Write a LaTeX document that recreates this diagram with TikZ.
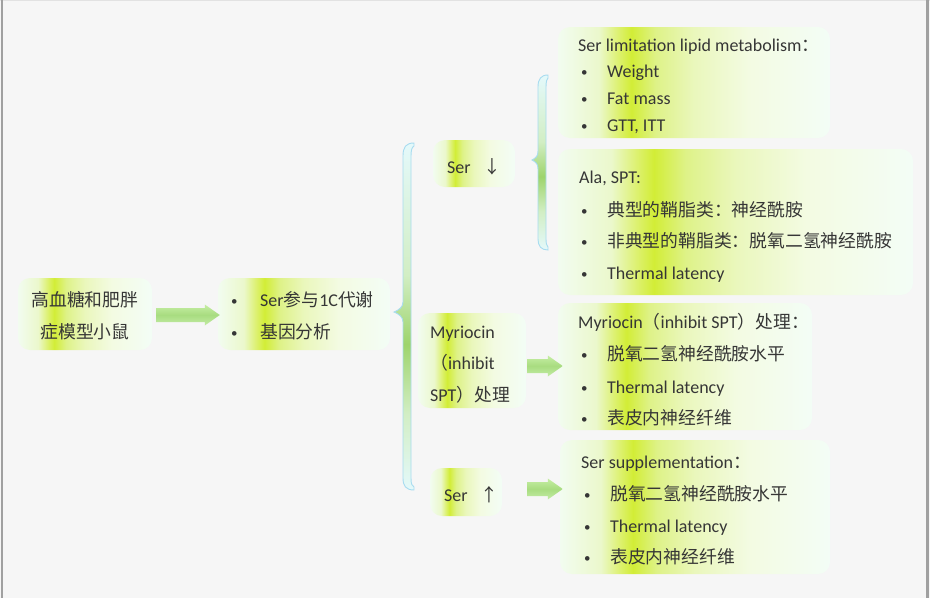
\documentclass[tikz,border=0pt]{standalone}
\usepackage{fontspec}
\setmainfont{Carlito}
\newfontfamily\cjkf{Noto Sans CJK SC}
\usetikzlibrary{calc}
\newcommand\zh[1]{{\cjkf\fontsize{17.8}{20}\selectfont #1}}
\definecolor{bgc}{HTML}{F6F6F6}
\definecolor{edgec}{HTML}{A0A0A0}
\definecolor{topc}{HTML}{E2E2E2}
\definecolor{txtc}{HTML}{363636}
\definecolor{bxA}{HTML}{F2FCF0}
\definecolor{bxB}{HTML}{EBF8CC}
\definecolor{bxC}{HTML}{DDF172}
\definecolor{bxD}{HTML}{D2ED36}
\definecolor{bxE}{HTML}{DEF288}
\definecolor{bxF}{HTML}{EAF7BC}
\definecolor{bxG}{HTML}{F3FBE2}
\definecolor{bxH}{HTML}{F3FDF6}
\definecolor{brE}{HTML}{E4F9FB}
\definecolor{brM}{HTML}{9ED46C}
\definecolor{brN}{HTML}{D2EEC4}
\definecolor{brLine}{HTML}{A8DCF0}
\definecolor{arT}{HTML}{C6EEA4}
\definecolor{arM}{HTML}{A8DC80}
\definecolor{arB}{HTML}{C4ECA6}
\pgfdeclarehorizontalshading{boxshade}{100bp}{color(0bp)=(bxA); color(25bp)=(bxA); color(32.5bp)=(bxB); color(36bp)=(bxC); color(38.5bp)=(bxD); color(43bp)=(bxE); color(50bp)=(bxF); color(60bp)=(bxG); color(75bp)=(bxH); color(100bp)=(bxH)}
\pgfdeclareverticalshading{braceshade}{100bp}{color(0bp)=(brE); color(25bp)=(brE); color(36bp)=(brN); color(46bp)=(brM); color(56bp)=(brN); color(75bp)=(brE); color(100bp)=(brE)}
\pgfdeclareverticalshading{arrowshade}{100bp}{color(0bp)=(arB); color(25bp)=(arB); color(50bp)=(arM); color(75bp)=(arT); color(100bp)=(arT)}
\newcommand\flowarrow[2]{\path[shading=arrowshade] ($(#1)+(0,-7)$) -- ($(#2)+(-15,-7)$) -- ($(#2)+(-15,-10.5)$) -- (#2) -- ($(#2)+(-15,10.5)$) -- ($(#2)+(-15,7)$) -- ($(#1)+(0,7)$) -- cycle;}
\tikzset{
  box/.style={rectangle, rounded corners=12pt, shading=boxshade, draw=none, inner sep=0pt},
  txt/.style={inner sep=0pt, anchor=base west, text=txtc, font=\fontsize{18}{20}\selectfont},
  ctxt/.style={txt, anchor=base},
  dot/.style={inner sep=0pt, anchor=base west, text=txtc, font=\fontsize{13}{15}\selectfont},
  brace/.style={shading=braceshade, draw=brLine, line width=0.9pt}
}
\begin{document}
\begin{tikzpicture}[x=1pt,y=-1pt]
\useasboundingbox (0,0) rectangle (930,598);
\fill[bgc] (0,0) rectangle (930,598);
\fill[topc] (0,0) rectangle (930,1.2);
\fill[edgec] (0.8,0) rectangle (3.4,598);
\fill[edgec] (926,0) rectangle (928.8,598);

% boxes
\node[box, minimum width=134pt, minimum height=72pt] (b1) at (85,314) {};
\node[box, minimum width=172pt, minimum height=72pt] (b2) at (304,314) {};
\node[box, minimum width=82pt, minimum height=47pt] (b3) at (474,163.5) {};
\node[box, minimum width=272pt, minimum height=111pt] (b4) at (694,82.5) {};
\node[box, minimum width=355pt, minimum height=146pt] (b5) at (735.5,222) {};
\node[box, minimum width=108pt, minimum height=95pt] (b6) at (472,360.5) {};
\node[box, minimum width=254pt, minimum height=127pt] (b7) at (685,366.5) {};
\node[box, minimum width=72pt, minimum height=48pt] (b8) at (466,492) {};
\node[box, minimum width=270pt, minimum height=134pt] (b9) at (695,507) {};

% texts
\node[ctxt] (t1a) at (85,306) {\zh{高血糖和肥胖}};
\node[ctxt] (t1b) at (85,338) {\zh{症模型小鼠}};

\node[dot] (t2a) at (231,305) {•};
\node[txt] (t2b) at (260,306) {Ser\zh{参与}1C\zh{代谢}};
\node[dot] (t2c) at (231,337) {•};
\node[txt] (t2d) at (260,338) {\zh{基因分析}};

\node[txt] (t3) at (447,173) {Ser\hspace{13pt}\zh{↓}};

\node[txt] (t4a) at (578,51) {Ser limitation lipid metabolism\zh{：}};
\node[dot] (t4b) at (581,76) {•};
\node[txt] (t4c) at (607,77) {Weight};
\node[dot] (t4d) at (581,103) {•};
\node[txt] (t4e) at (607,104) {Fat mass};
\node[dot] (t4f) at (581,130) {•};
\node[txt] (t4g) at (607,131) {GTT, ITT};

\node[txt] (t5a) at (579,183) {Ala, SPT:};
\node[dot] (t5b) at (581,215) {•};
\node[txt] (t5c) at (607,216) {\zh{典型的鞘脂类：神经酰胺}};
\node[dot] (t5d) at (581,246) {•};
\node[txt] (t5e) at (607,247) {\zh{非典型的鞘脂类：脱氧二氢神经酰胺}};
\node[dot] (t5f) at (581,278) {•};
\node[txt] (t5g) at (607,279) {Thermal latency};

\node[txt] (t6a) at (430,338) {Myriocin};
\node[txt] (t6b) at (430,369) {\zh{（}inhibit};
\node[txt] (t6c) at (430,401) {SPT\zh{）处理}};

\node[txt] (t7a) at (578,328) {Myriocin\zh{（}inhibit SPT\zh{）处理：}};
\node[dot] (t7b) at (581,359) {•};
\node[txt] (t7c) at (607,360) {\zh{脱氧二氢神经酰胺水平}};
\node[dot] (t7d) at (581,392) {•};
\node[txt] (t7e) at (607,393) {Thermal latency};
\node[dot] (t7f) at (581,423) {•};
\node[txt] (t7g) at (607,424) {\zh{表皮内神经纤维}};

\node[txt] (t8) at (444,501) {Ser\hspace{13pt}\zh{↑}};

\node[txt] (t9a) at (581,468) {Ser supplementation\zh{：}};
\node[dot] (t9b) at (584,499) {•};
\node[txt] (t9c) at (610,500) {\zh{脱氧二氢神经酰胺水平}};
\node[dot] (t9d) at (584,531) {•};
\node[txt] (t9e) at (610,532) {Thermal latency};
\node[dot] (t9f) at (584,562) {•};
\node[txt] (t9g) at (610,563) {\zh{表皮内神经纤维}};

% braces
\path[brace] (414,143) .. controls (406,143) and (403,147) .. (403,156) -- (403,302)
  .. controls (403,307) and (399,310) .. (394,312) .. controls (399,314) and (403,317) .. (403,322)
  -- (403,478) .. controls (403,486) and (406,490) .. (414,490) -- (414,487)
  .. controls (412,486) and (411,484) .. (411,478) -- (411,156)
  .. controls (411,150) and (412,147) .. (414,146) -- cycle;
\path[brace] (548,75) .. controls (541,75) and (538,79) .. (538,87) -- (538,151)
  .. controls (538,156) and (536,158) .. (532,160) .. controls (536,162) and (538,164) .. (538,169)
  -- (538,239) .. controls (538,246) and (541,250) .. (548,250) -- (548,247)
  .. controls (547,246) and (546,244) .. (546,239) -- (546,87)
  .. controls (546,81) and (547,79) .. (548,78) -- cycle;

% arrows
\coordinate (a1s) at ($(b1.east)+(4,1)$);
\coordinate (a1e) at ($(b2.west)+(2,1)$);
\flowarrow{a1s}{a1e}
\coordinate (a2s) at ($(b6.east)+(1,5.5)$);
\coordinate (a2e) at ($(a2s -| b7.west)+(5,0)$);
\flowarrow{a2s}{a2e}
\coordinate (a3s) at ($(b8.east)+(25,-3)$);
\coordinate (a3e) at ($(a3s -| b9.west)+(3,0)$);
\flowarrow{a3s}{a3e}
\end{tikzpicture}
\end{document}
